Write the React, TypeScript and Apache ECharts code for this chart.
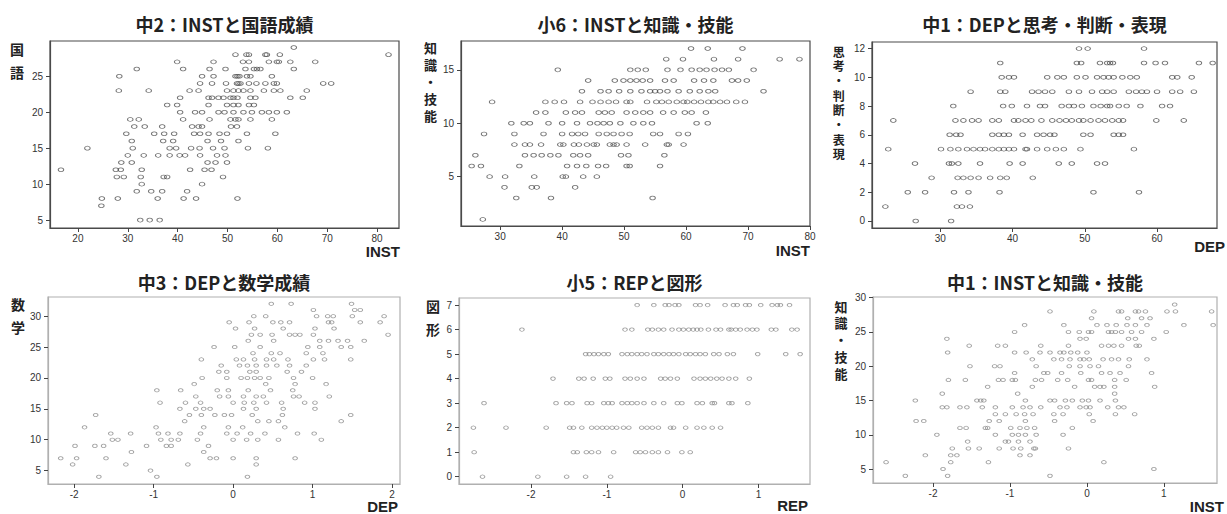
import React, { useEffect, useRef } from 'react';
import * as echarts from 'echarts';

type Rows = [number, number[]][];

// 中2：INSTと国語成績  (y value, x values)
const chu2KokugoRows: Rows = [
  [29, [63.3]],
  [28, [51.6, 53.8, 54.3, 57.6, 57.9, 60.5, 82.3]],
  [27, [39.9, 47.2, 53.1, 54.3, 58.3, 59.9, 60.3, 62.6, 67.6]],
  [26, [31.8, 41.1, 46.4, 49.6, 53.6, 55.3, 55.9, 56.6, 63.3]],
  [25, [28.3, 44.9, 47.2, 51.6, 52, 52.4, 53.9, 54.6, 58.9]],
  [24, [44.5, 46.9, 49.7, 51.9, 52.2, 52.6, 54.3, 55.8, 57.6, 59.3, 59.9, 69.2, 70.8]],
  [23, [28.2, 34.2, 42.4, 44.2, 49.9, 51.2, 52.2, 53.2, 54.6, 57.3, 59.3, 60.6, 65.9]],
  [22, [40.5, 46.2, 46.9, 48.2, 49.2, 50.6, 51.2, 52, 54.6, 55.6, 62.6, 65.1]],
  [21, [37.9, 39.9, 46.2, 49.9, 51.2, 52.2, 54.3, 55.3]],
  [20, [40.5, 43.5, 44.9, 48.2, 49.4, 51.2, 53.2, 54.9, 56.9, 58.3, 59.9, 61.9]],
  [19, [30.5, 32.2, 41.1, 46.4, 50.6, 51.6, 52.2, 54.6, 58.9]],
  [18, [31.3, 33.4, 36.9, 42.9, 44.2, 44.9, 50.7, 51.9]],
  [17, [29.7, 35.3, 37.3, 39.3, 43.3, 44.5, 46.2, 48.4, 49.9, 53.9, 59.6]],
  [16, [30.8, 37.1, 39.1, 46, 48.7, 52.2]],
  [15, [21.9, 31, 38.4, 39.7, 42.7, 44.4, 47.1, 49.4, 54.1, 58.1]],
  [14, [30, 33.2, 36.1, 38.4, 40.4, 41.5, 44.5, 47.9, 49.6]],
  [13, [28.7, 30.8, 46, 47.6, 49.9]],
  [12, [16.6, 27.6, 28.6, 32.8, 42.5, 45.4, 46.8]],
  [11, [27.8, 29.2, 32.6, 37.2, 37.9, 49.1]],
  [10, [32.8, 44.9]],
  [9, [31.8, 34.7, 36.9, 41.9]],
  [8, [24.8, 28, 36, 41.2, 43.7, 52]],
  [7, [24.7]],
  [5, [32.5, 34.4, 36.4]],
];

// 小6：INSTと知識・技能
const sho6ChishikiRows: Rows = [
  [17, [60.8, 63.5, 69.1]],
  [16, [56.8, 59.5, 64.5, 68.4, 75.1, 78.3]],
  [15, [39.3, 51, 52.2, 53.5, 57, 59.1, 60.9, 62.2, 63.3, 64.6, 65.8, 66.9, 70.9]],
  [14, [44.2, 48.5, 49.9, 51, 52, 53, 54.2, 56.6, 58, 61.3, 62.9, 64.4, 67.4, 68.4, 69.8]],
  [13, [43.2, 46.2, 47.5, 49.2, 51, 52.8, 54.2, 55, 55.8, 57, 58.8, 60.6, 62.2, 63.6, 64.7, 72.5]],
  [12, [28.7, 37.3, 38.8, 40.3, 42.9, 44.9, 46.2, 47.5, 48.7, 50.4, 51, 53.7, 55.2, 56.1, 57.2, 58.5, 59.6, 60.2, 61.3, 62.4, 63.6, 64.4, 65.5, 66.6, 68.1, 69.5]],
  [11, [35.8, 37.3, 40.6, 42.1, 43.2, 45.9, 46.9, 48, 50.4, 51.8, 53.1, 54.2, 56.3, 58, 59.8, 60.9, 63.2]],
  [10, [31.8, 33.8, 34.8, 37.8, 40, 42.4, 44.5, 45.7, 46.7, 47.7, 49.4, 51.5, 53.1, 54.5, 61.7, 63.5]],
  [9, [27.4, 32.3, 37, 40, 41.6, 42.6, 43.7, 45.9, 47.2, 48.3, 49.6, 50.9, 54.7, 55.8, 58.8, 60.3]],
  [8, [32.3, 34, 34.8, 36.6, 39.7, 40.2, 41.9, 42.7, 44, 45.1, 45.6, 47.7, 48.3, 48.8, 50.4, 53.4, 56.9, 57.2, 59.6]],
  [7, [26, 34, 35.4, 36.7, 38.1, 39.4, 41.8, 42.9, 44.2, 49.5, 50.7, 56.5]],
  [6, [25.4, 26.9, 33.1, 40.8, 42.4, 43.9, 45.8, 47.1, 50.4, 50.9, 55.8]],
  [5, [28.3, 30.8, 35.5, 40.1, 40.6, 43.4, 45.6]],
  [4, [30.7, 35.1, 35.9, 42.1]],
  [3, [32.6, 38.2, 54.6]],
  [1, [27.2]],
];

// 中1：DEPと思考・判断・表現
const chu1ShikoRows: Rows = [
  [12, [49.2, 50.4, 58.2]],
  [11, [38.3, 48.9, 49.5, 52.1, 53.1, 53.5, 53.9, 58.2, 59.8, 61.1, 65.8, 67.7]],
  [10, [38.5, 39.5, 40.2, 44.8, 46.2, 47.1, 48.9, 50.1, 51.7, 52.6, 53.3, 54, 55.2, 56.3, 57.2, 62.1, 62.8, 64.8]],
  [9, [34.2, 38.3, 39, 42.7, 43.6, 44.5, 45.5, 47.8, 49.2, 51, 52.4, 53.1, 54, 56.1, 57.1, 57.9, 58.6, 60, 62.1, 63.2, 65.1]],
  [8, [31.8, 38.7, 39.9, 42, 43.8, 44.5, 46.8, 47.8, 48.5, 49.6, 51.2, 52.2, 53.1, 53.5, 54.7, 55.8, 57.7, 60.7, 61.8]],
  [7, [23.5, 32.1, 33.2, 34.4, 35.3, 37.2, 38.1, 40.2, 40.8, 41.8, 42.6, 44, 45.5, 46.5, 47.4, 48.2, 49.2, 49.8, 50.8, 51.9, 52.8, 53.8, 54.7, 55.3, 59.9, 63.7]],
  [6, [31.3, 32.2, 32.8, 37.2, 38.1, 38.8, 39.5, 41.4, 43.4, 44.3, 45.2, 45.8, 49.8, 50.8, 54, 54.7, 55.3]],
  [5, [22.8, 30.1, 31.4, 32.5, 33.7, 34.6, 35.5, 36.2, 37.2, 38.1, 38.8, 39.5, 40.2, 41.8, 42, 43.4, 44.8, 46, 47.1, 49.4, 56.8]],
  [4, [26.5, 31.2, 31.6, 32.5, 35.5, 39.6, 41.4, 46.4, 48.2, 51.7, 52.8]],
  [3, [28.8, 32.4, 33.2, 34.2, 35.3, 36.9, 38.3, 39.2, 42.8]],
  [2, [25.5, 27.9, 31.9, 33.9, 38.2, 51.2, 57.5]],
  [1, [22.4, 32.3, 33, 34.1]],
  [0, [26.6, 31.5]],
];

// 中3：DEPと数学成績
const chu3SugakuRows: Rows = [
  [32, [0.48, 0.73, 1.49]],
  [31, [1.01, 1.53, 1.6]],
  [30, [0.26, 0.41, 1.05, 1.19, 1.26, 1.5, 1.9]],
  [29, [-0.05, 0.2, 0.5, 0.6, 0.71, 1.2, 1.24, 1.6, 1.85]],
  [28, [0.03, 0.27, 0.63, 1.03, 1.27]],
  [27, [0.23, 0.34, 0.49, 0.71, 0.78, 0.84, 1.01, 1.95]],
  [26, [0.19, 0.51, 1.09, 1.2, 1.32, 1.44, 1.65]],
  [25, [-0.24, 0.02, 0.34, 0.94, 1.09, 1.36, 1.48]],
  [24, [0.25, 0.48, 0.59, 0.92, 1.13]],
  [23, [-0.4, 0.04, 0.13, 0.27, 0.42, 0.51, 0.69, 1.01, 1.15, 1.48]],
  [22, [-0.15, 0.08, 0.18, 0.29, 0.42, 0.55, 0.71, 0.92]],
  [21, [-0.18, -0.08, 0.21, 0.29, 0.68, 0.86]],
  [20, [-0.39, -0.08, 0.1, 0.18, 0.27, 0.34, 0.45, 0.76, 1.0]],
  [19, [-0.49, 0.41, 0.78, 1.17]],
  [18, [-0.96, -0.66, -0.2, -0.06, 0.19, 0.47, 0.75]],
  [17, [-0.47, -0.17, -0.06, 0.13, 0.29, 0.38, 0.76, 0.83, 1.21]],
  [16, [-0.92, -0.6, -0.41, 0, 0.14, 0.26, 0.42, 0.61, 0.9, 1.03]],
  [15, [-0.67, -0.47, -0.37, -0.29, 0.13, 0.29, 0.63, 1.03]],
  [14, [-1.73, -0.55, -0.4, -0.23, -0.11, -0.02, 0.24, 0.62, 1.48]],
  [13, [-0.61, 0.31, 0.45, 0.57, 1.36]],
  [12, [-1.87, -0.97, -0.37, -0.06, 0.12, 0.65]],
  [11, [-1.54, -1.29, -0.94, -0.82, -0.67, -0.41, -0.08, 0.05, 0.22, 0.4, 0.81, 1.02]],
  [10, [-1.52, -1.45, -0.91, -0.78, -0.69, -0.45, 0, 0.17, 0.31, 0.57, 1.11]],
  [9, [-1.99, -1.74, -1.63, -1.09, -0.84, -0.78, -0.31]],
  [8, [-1.28, -0.37]],
  [7, [-2.17, -1.97, -1.6, -0.29, -0.21, 0, 0.29, 0.78]],
  [6, [-2.02, -1.35, -0.57, 0.29]],
  [5, [-1.04]],
  [4, [-1.69, -0.96, 0.18]],
];

// 小5：REPと図形
const sho5ZukeiRows: Rows = [
  [7, [-0.6, -0.38, -0.23, -0.18, -0.1, -0.05, 0.17, 0.23, 0.33, 0.56, 0.67, 0.72, 0.83, 0.88, 1.03, 1.18, 1.25, 1.29, 1.41]],
  [6, [-2.12, -0.76, -0.67, -0.46, -0.4, -0.32, -0.25, -0.14, -0.05, 0.01, 0.08, 0.14, 0.19, 0.24, 0.34, 0.44, 0.5, 0.61, 0.64, 0.7, 0.76, 0.85, 0.92, 0.98, 1.17, 1.23, 1.44, 1.51]],
  [5, [-1.28, -1.23, -1.17, -1.11, -1.04, -0.98, -0.8, -0.73, -0.67, -0.6, -0.54, -0.47, -0.38, -0.32, -0.25, -0.18, -0.12, -0.05, 0.04, 0.1, 0.17, 0.23, 0.3, 0.41, 0.48, 0.59, 0.67, 0.99, 1.36, 1.55]],
  [4, [-1.71, -1.37, -1.3, -1.18, -1.02, -0.96, -0.76, -0.69, -0.6, -0.51, -0.29, -0.23, -0.16, -0.07, 0.15, 0.23, 0.3, 0.37, 0.45, 0.52, 0.61, 0.7, 0.88]],
  [3, [-2.62, -1.67, -1.53, -1.46, -1.26, -1.2, -1.04, -0.98, -0.93, -0.8, -0.73, -0.67, -0.6, -0.51, -0.38, -0.25, -0.07, -0.01, 0.19, 0.26, 0.39, 0.42, 0.61, 0.65, 0.86]],
  [2, [-2.76, -2.33, -1.8, -1.49, -1.44, -1.33, -1.2, -1.13, -1.06, -1.0, -0.93, -0.87, -0.78, -0.71, -0.54, -0.47, -0.4, -0.32, -0.16, -0.12, 0.04, 0.19, 0.28, 0.39, 0.5]],
  [1, [-2.75, -1.44, -1.39, -1.27, -1.2, -1.11, -0.91, -0.62, -0.56, -0.49, -0.4, -0.32, -0.2, -0.01, 0.1]],
  [0, [-2.64, -1.91, -1.53, -1.28, -0.95]],
];

// 中1：INSTと知識・技能
const chu1ChishikiRows: Rows = [
  [29, [1.14]],
  [28, [-0.48, 0.09, 0.41, 0.45, 0.63, 0.67, 0.76, 1.04, 1.15, 1.62]],
  [27, [0.06, 0.53, 0.71, 0.82]],
  [26, [-0.81, -0.3, 0.13, 0.26, 0.38, 0.52, 0.63, 0.78, 1.26, 1.64]],
  [25, [-0.94, -0.24, -0.1, 0.02, 0.06, 0.28, 0.32, 0.37, 0.45, 0.58, 0.71, 1.03]],
  [24, [-1.82, -0.09, -0.01, 0.54, 0.63, 0.87]],
  [23, [-1.53, -1.16, -1.06, -0.6, -0.24, 0.19, 0.28, 0.35, 0.45, 0.64, 0.68]],
  [22, [-1.81, -0.94, -0.79, -0.61, -0.48, -0.35, -0.3, -0.21, -0.12, 0]],
  [21, [-0.71, -0.43, -0.33, -0.22, -0.09, -0.04, 0.03, 0.21, 0.32, 0.41, 0.55, 0.78]],
  [20, [-1.52, -1.2, -1.13, -0.66, -0.23, -0.09, 0.04, 0.15, 0.54]],
  [19, [-0.94, -0.56, -0.51, -0.33, -0.08, 0.19, 0.3, 0.43, 0.84]],
  [18, [-1.8, -1.58, -1.15, -1.09, -0.97, -0.93, -0.67, -0.59, -0.38, -0.25, 0.02, 0.06, 0.36, 0.51]],
  [17, [-1.29, -0.71, -0.16, 0.1, 0.17, 0.22, 0.36, 0.88]],
  [16, [-1.88, -0.9, 0.36]],
  [15, [-2.23, -1.43, -1.38, -1.34, -0.8, -0.48, -0.42, -0.28, -0.19, -0.06, 0.02, 0.17, 0.37]],
  [14, [-1.88, -1.82, -1.65, -1.56, -1.36, -1.19, -0.97, -0.83, -0.74, -0.6, -0.35, -0.26, -0.09, -0.01, 0.04, 0.27, 0.41, 0.48]],
  [13, [-1.19, -1.06, -0.92, -0.81, -0.7, -0.43, -0.31, 0.03, 0.37, 0.62]],
  [12, [-2.22, -2.12, -1.27, -1.14, -0.8, -0.42, 0.08]],
  [11, [-1.65, -1.57, -1.32, -1.29, -0.99, -0.87, -0.78, -0.68, -0.19]],
  [10, [-1.95, -1.19, -0.97, -0.89, -0.8, -0.66, -0.31]],
  [9, [-1.55, -1.06, -1.02, -0.89, -0.74]],
  [8, [-1.75, -1.54, -1.4, -1.14, -0.96, -0.86, -0.69, -0.67, -0.24]],
  [7, [-2.1, -1.77, -1.69, -0.87, -0.74]],
  [6, [-2.61, -1.77, -1.28, 0.22]],
  [5, [-1.87, 0.87]],
  [4, [-2.36, -1.81, -0.48]],
];

const titles = [
  '中2：INSTと国語成績',
  '小6：INSTと知識・技能',
  '中1：DEPと思考・判断・表現',
  '中3：DEPと数学成績',
  '小5：REPと図形',
  '中1：INSTと知識・技能',
];
const yNames = ['国語', '知識・技能', '思考・判断・表現', '数学', '図形', '知識・技能'];
const xNames = ['INST', 'INST', 'DEP', 'DEP', 'REP', 'INST'];

const xTicks = [
  [20, 30, 40, 50, 60, 70, 80],
  [30, 40, 50, 60, 70, 80],
  [30, 40, 50, 60],
  [-2, -1, 0, 1, 2],
  [-2, -1, 0, 1],
  [-2, -1, 0, 1],
];
const yTicks = [
  [5, 10, 15, 20, 25],
  [5, 10, 15],
  [0, 2, 4, 6, 8, 10, 12],
  [5, 10, 15, 20, 25, 30],
  [0, 1, 2, 3, 4, 5, 6, 7],
  [5, 10, 15, 20, 25, 30],
];
const allRows = [chu2KokugoRows, sho6ChishikiRows, chu1ShikoRows, chu3SugakuRows, sho5ZukeiRows, chu1ChishikiRows];

const layouts = [
  { left: 50, top: 41, width: 349, height: 187, xMin: 14.4, xMax: 84.4, yMin: 3.9, yMax: 29.9, titleY: 24, nx: 17, ny: 49, ndy: 22.5, nfs: 14, xnX: 400, xnY: 251, dark: true },
  { left: 461, top: 41, width: 349, height: 185, xMin: 23.68, xMax: 80, yMin: 0.38, yMax: 17.7, titleY: 24, nx: 430.5, ny: 47.5, ndy: 17.1, nfs: 13, xnX: 810, xnY: 250, dark: true },
  { left: 872, top: 42, width: 345, height: 186, xMin: 20.55, xMax: 68.3, yMin: -0.49, yMax: 12.46, titleY: 24, nx: 838.7, ny: 51, ndy: 14.7, nfs: 12, xnX: 1225, xnY: 246, dark: true },
  { left: 48, top: 297, width: 352, height: 187, xMin: -2.33, xMax: 2.1, yMin: 2.83, yMax: 33.1, titleY: 282, nx: 18, ny: 303.5, ndy: 23.5, nfs: 14, xnX: 398, xnY: 506, dark: false },
  { left: 459, top: 298, width: 351, height: 186, xMin: -2.95, xMax: 1.68, yMin: -0.3, yMax: 7.29, titleY: 282, nx: 433, ny: 305.5, ndy: 23.5, nfs: 14, xnX: 808, xnY: 505, dark: false },
  { left: 873, top: 297, width: 344, height: 186, xMin: -2.78, xMax: 1.69, yMin: 2.96, yMax: 30.1, titleY: 282, nx: 841, ny: 306, ndy: 16.8, nfs: 13, xnX: 1224, xnY: 506, dark: false },
];

function flatten(rows: Rows): number[][] {
  const out: number[][] = [];
  rows.forEach(([y, xs]) => xs.forEach((x) => out.push([x, y])));
  return out;
}

const CJK = '"Noto Sans CJK JP", "Noto Sans", sans-serif';
const LATIN = '"Liberation Sans", Arial, sans-serif';

export default function App() {
  const ref = useRef<HTMLDivElement>(null);
  useEffect(() => {
    if (!ref.current) return;
    const chart = echarts.init(ref.current, undefined, { renderer: 'svg' });
    const grid: any[] = [];
    const xAxis: any[] = [];
    const yAxis: any[] = [];
    const series: any[] = [];
    const graphic: any[] = [];
    layouts.forEach((l, i) => {
      const frame = l.dark ? '#4a4a4a' : '#b0b0b0';
      const pt = l.dark ? '#505050' : '#8a8a8a';
      grid.push({ left: l.left, top: l.top, width: l.width, height: l.height, show: true, borderColor: frame, borderWidth: 1.2, backgroundColor: '#fff' });
      const axisCommon = {
        gridIndex: i,
        type: 'value',
        splitLine: { show: false },
        axisLine: { show: true, onZero: false, lineStyle: { color: frame, width: 1.2 } },
      };
      xAxis.push({
        ...axisCommon,
        min: l.xMin,
        max: l.xMax,
        axisTick: { show: true, length: 4, customValues: xTicks[i], lineStyle: { color: '#444' } },
        axisLabel: { customValues: xTicks[i], margin: 5, fontSize: 10, color: '#333', fontFamily: LATIN },
      });
      yAxis.push({
        ...axisCommon,
        min: l.yMin,
        max: l.yMax,
        axisTick: { show: true, length: 4, customValues: yTicks[i], lineStyle: { color: '#444' } },
        axisLabel: { customValues: yTicks[i], margin: 7, fontSize: 10, color: '#333', fontFamily: LATIN },
      });
      series.push({
        type: 'scatter',
        xAxisIndex: i,
        yAxisIndex: i,
        silent: true,
        symbol: 'circle',
        symbolSize: l.dark ? [5.5, 3.8] : [4.6, 3.3],
        itemStyle: { color: 'rgba(255,255,255,0)', borderColor: pt, borderWidth: 0.9 },
        data: flatten(allRows[i]),
      });
      graphic.push({
        type: 'text',
        x: l.left + l.width / 2,
        y: l.titleY,
        style: { text: titles[i], align: 'center', verticalAlign: 'middle', font: `bold 18px ${CJK}`, fill: '#222' },
      });
      graphic.push({
        type: 'text',
        x: l.nx,
        y: l.ny - l.ndy / 2,
        style: {
          text: yNames[i].split('').join('\n'),
          align: 'center',
          verticalAlign: 'top',
          lineHeight: l.ndy,
          font: `bold ${l.nfs}px ${CJK}`,
          fill: '#222',
        },
      });
      graphic.push({
        type: 'text',
        x: l.xnX,
        y: l.xnY,
        style: { text: xNames[i], align: 'right', verticalAlign: 'middle', font: `bold 15px ${LATIN}`, fill: '#222' },
      });
    });
    chart.setOption({
      animation: false,
      backgroundColor: '#fff',
      grid,
      xAxis,
      yAxis,
      series,
      graphic,
    });
    return () => chart.dispose();
  }, []);
  return <div ref={ref} style={{ position: 'fixed', left: 0, top: 0, width: 1227, height: 514 }} />;
}
